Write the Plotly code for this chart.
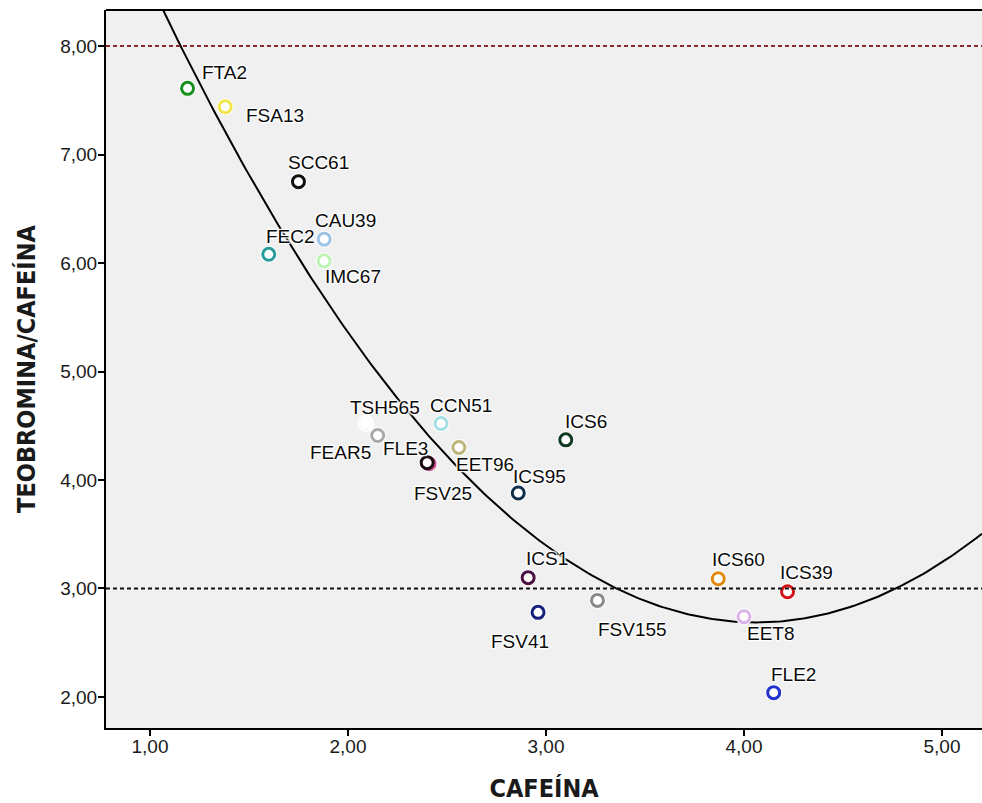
import numpy as np
import plotly.graph_objects as go

# ---- data ----
cultivars = ["FTA2", "FSA13", "SCC61", "CAU39", "FEC2", "IMC67", "TSH565", "FEAR5",
             "CCN51", "FSV25", "FLE3", "EET96", "ICS6", "ICS95", "ICS1", "FSV41",
             "FSV155", "ICS60", "ICS39", "EET8", "FLE2"]
cafeina = [1.19, 1.38, 1.75, 1.88, 1.60, 1.88, 2.09, 2.15,
           2.47, 2.41, 2.40, 2.56, 3.10, 2.86, 2.91, 2.96,
           3.26, 3.87, 4.22, 4.00, 4.15]
teo_caf = [7.61, 7.44, 6.75, 6.22, 6.08, 6.02, 4.52, 4.41,
           4.52, 4.15, 4.16, 4.30, 4.37, 3.88, 3.10, 2.78,
           2.89, 3.09, 2.97, 2.74, 2.04]
x_ticks = [1, 2, 3, 4, 5]
x_tick_labels = ["1,00", "2,00", "3,00", "4,00", "5,00"]
y_ticks = [2, 3, 4, 5, 6, 7, 8]
y_tick_labels = ["2,00", "3,00", "4,00", "5,00", "6,00", "7,00", "8,00"]
ref_lines = [8.0, 3.0]

# ---- styles ----
colors = {
    "FTA2": "#17901f", "FSA13": "#f2e54a", "SCC61": "#111111", "CAU39": "#9ec4e8",
    "FEC2": "#2a9c9c", "IMC67": "#bff3b5", "TSH565": "#fbfbfb", "FEAR5": "#a9a9a9",
    "CCN51": "#a4dfe3", "FSV25": "#d2589a", "FLE3": "#1b0b10", "EET96": "#bdb47c",
    "ICS6": "#0f3a1f", "ICS95": "#0f2f4a", "ICS1": "#4a1342", "FSV41": "#15207a",
    "FSV155": "#8a8a8a", "ICS60": "#e2880e", "ICS39": "#d0141a", "EET8": "#d9b3ea",
    "FLE2": "#2233cf",
}
label_offsets = {  # (dx, dy) in px, dy positive = down
    "FTA2": (37, -16), "FSA13": (50, 9), "SCC61": (20, -19), "CAU39": (21, -19),
    "FEC2": (22, -18), "IMC67": (29, 16), "TSH565": (19, -16), "FEAR5": (-37, 17),
    "CCN51": (20, -18), "FLE3": (-22, -14), "FSV25": (14, 30), "EET96": (26, 17),
    "ICS6": (20, -18), "ICS95": (21, -17), "ICS1": (19, -19), "FSV41": (-18, 29),
    "FSV155": (35, 29), "ICS60": (20, -19), "ICS39": (19, -19), "EET8": (27, 17),
    "FLE2": (20, -18),
}

x_range = [0.778, 5.202]
y_range = [1.714, 8.332]

fig = go.Figure()

# quadratic fit line
coef = np.polyfit(cafeina, teo_caf, 2)
xf = np.linspace(x_range[0], x_range[1], 300)
yf = np.polyval(coef, xf)
fig.add_trace(go.Scatter(x=xf, y=yf, mode="lines",
                         line=dict(color="black", width=2), hoverinfo="skip",
                         showlegend=False))

# white halo under markers
fig.add_trace(go.Scatter(x=cafeina, y=teo_caf, mode="markers",
                         marker=dict(symbol="circle", size=17, color="white",
                                     line=dict(width=0)),
                         hoverinfo="skip", showlegend=False))
# markers
fig.add_trace(go.Scatter(x=cafeina, y=teo_caf, mode="markers",
                         marker=dict(symbol="circle", size=12, color="white",
                                     line=dict(width=3, color=[colors[c] for c in cultivars])),
                         text=cultivars, showlegend=False))

halo = ("1px 1px 1px white, -1px -1px 1px white, 1px -1px 1px white, "
        "-1px 1px 1px white, 0 0 3px white")
for c, xv, yv in zip(cultivars, cafeina, teo_caf):
    dx, dy = label_offsets[c]
    fig.add_annotation(x=xv, y=yv, text=c, showarrow=False,
                       xshift=dx, yshift=-dy,
                       font=dict(family="Liberation Sans, Arial, sans-serif",
                                 size=19, color="#0a0a0a", shadow=halo))

# reference lines
for yv, col in zip(ref_lines, ["#8b2a2a", "#111111"]):
    fig.add_shape(type="line", xref="paper", x0=0, x1=1, yref="y", y0=yv, y1=yv,
                  line=dict(color=col, width=2, dash="4px,3px"), layer="above")

# top border
fig.add_shape(type="line", xref="paper", x0=0, x1=1, yref="paper", y0=1, y1=1,
              line=dict(color="black", width=2))

axis_font = dict(family="Liberation Sans, Arial, sans-serif", size=19, color="#1a1a1a")
title_font = dict(family="Liberation Sans Narrow, DejaVu Sans Condensed, Arial Narrow, sans-serif",
                  size=25, color="#1a1a1a", weight="bold")

fig.update_layout(
    width=982, height=803,
    margin=dict(l=106, r=0, t=10, b=75),
    paper_bgcolor="white", plot_bgcolor="#f0f0f0",
    showlegend=False,
    xaxis=dict(range=x_range, tickvals=x_ticks, ticktext=x_tick_labels,
               showgrid=False, zeroline=False, showline=True, linecolor="black",
               linewidth=2, ticks="outside", ticklen=6, tickwidth=2, tickcolor="black",
               tickfont=axis_font, automargin=False, ticklabelstandoff=-6,
               title=dict(text="CAFEÍNA", font=title_font, standoff=24)),
    yaxis=dict(range=y_range, tickvals=y_ticks, ticktext=y_tick_labels,
               showgrid=False, zeroline=False, showline=True, linecolor="black",
               linewidth=2, ticks="outside", ticklen=6, tickwidth=2, tickcolor="black",
               tickfont=axis_font, automargin=False, ticklabelstandoff=-3,
               title=dict(text="TEOBROMINA/CAFEÍNA", font=title_font, standoff=17)),
)

fig.write_html("out.html",
               config={"displayModeBar": False},
               post_script="document.body.style.margin='0';"
                           "document.body.style.overflow='hidden';")
